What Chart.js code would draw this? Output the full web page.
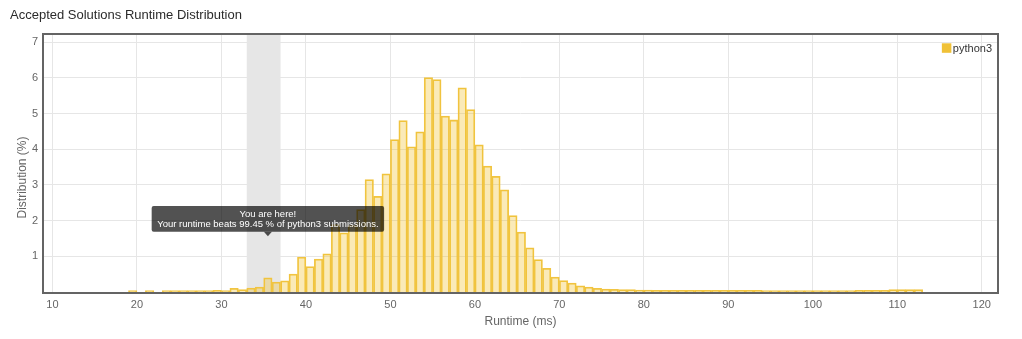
<!DOCTYPE html>
<html><head><meta charset="utf-8">
<script src="https://cdn.jsdelivr.net/npm/chart.js@4.4.0/dist/chart.umd.min.js"></script>
<style>html,body{margin:0;padding:0;background:#fff;overflow:hidden}#wrap{width:1022px;height:339px;position:relative}</style>
</head><body><div id="wrap"><canvas id="c" width="1022" height="339"></canvas></div>
<script>
const TITLE = 'Accepted Solutions Runtime Distribution';
const SERIES_NAME = 'python3';
const X_TITLE = 'Runtime (ms)';
const Y_TITLE = 'Distribution (%)';

// runtime bin (ms, bin start) and share of submissions (%)
const runtimes = [19,21,23,24,25,26,27,28,29,30,31,32,33,34,35,36,37,38,39,40,41,42,43,44,45,46,47,48,49,50,51,52,53,54,55,56,57,58,59,60,61,62,63,64,65,66,67,68,69,70,71,72,73,74,75,76,77,78,79,80,81,82,83,84,85,86,87,88,89,90,91,92,93,94,95,96,97,98,99,100,101,102,103,104,105,106,107,108,109,110,111,112];
const distribution = [0.02,0.02,0.02,0.02,0.015,0.02,0.04,0.03,0.05,0.04,0.10,0.07,0.11,0.14,0.40,0.28,0.31,0.50,0.98,0.71,0.92,1.07,1.89,1.66,1.86,2.31,3.15,2.68,3.31,4.27,4.80,4.07,4.49,6.01,5.95,4.93,4.82,5.72,5.11,4.12,3.53,3.24,2.86,2.14,1.68,1.24,0.91,0.66,0.42,0.32,0.25,0.17,0.14,0.10,0.085,0.075,0.065,0.065,0.056,0.056,0.047,0.047,0.047,0.045,0.047,0.047,0.045,0.047,0.047,0.045,0.047,0.047,0.045,0.03,0.03,0.04,0.04,0.04,0.04,0.035,0.035,0.035,0.04,0.04,0.05,0.05,0.05,0.05,0.07,0.07,0.07,0.07];
const binWidth = 1;

const xTicks = [10,20,30,40,50,60,70,80,90,100,110,120];
const yTicks = [1,2,3,4,5,6,7];
const xRange = [9, 121.8];
const yRange = [0, 7.2];

const highlightRange = [33, 37];
const tooltipLines = ['You are here!', 'Your runtime beats 99.45 % of python3 submissions.'];
const tooltipAnchor = [35.5, 1.56];

const FONT = "'Liberation Sans', Arial, Helvetica, sans-serif";
const BAR_FILL = 'rgba(240,190,40,0.33)';
const BAR_LINE = 'rgb(241,197,66)';
const LEGEND_COLOR = 'rgb(240,193,55)';

const points = runtimes.map((r, i) => ({x: r + binWidth / 2, y: distribution[i]}));

const decor = {
  id: 'decor',
  beforeDraw(chart) {
    const {ctx, chartArea: a, scales: {x}} = chart;
    const x0 = x.getPixelForValue(highlightRange[0]);
    const x1 = x.getPixelForValue(highlightRange[1]);
    ctx.save();
    ctx.fillStyle = '#e6e6e6';
    ctx.fillRect(x0, a.top, x1 - x0, a.bottom - a.top);
    ctx.restore();
  },
  afterDatasetsDraw(chart) {
    const {ctx, chartArea: a} = chart;
    ctx.save();
    ctx.strokeStyle = '#646464';
    ctx.lineWidth = 2;
    ctx.strokeRect(a.left - 1, a.top - 1, a.right - a.left + 2, a.bottom - a.top + 2);
    ctx.restore();
  },
  afterDraw(chart) {
    const {ctx, chartArea: a, scales: {x, y}} = chart;
    ctx.save();
    ctx.fillStyle = '#666';
    ctx.font = '12px ' + FONT;
    ctx.textAlign = 'center';
    ctx.textBaseline = 'middle';
    ctx.translate(a.left - 21, (a.top + a.bottom) / 2 + 14);
    ctx.rotate(-Math.PI / 2);
    ctx.fillText(Y_TITLE, 0, 0);
    ctx.restore();

    ctx.save();
    ctx.font = '11px ' + FONT;
    const tw = ctx.measureText(SERIES_NAME).width;
    const tx = a.right - 5 - tw;
    const ly = a.top + 13;
    ctx.fillStyle = LEGEND_COLOR;
    ctx.fillRect(tx - 11, ly - 4.7, 9.5, 9.5);
    ctx.fillStyle = '#333';
    ctx.textAlign = 'left';
    ctx.textBaseline = 'middle';
    ctx.fillText(SERIES_NAME, tx, ly + 0.5);
    ctx.restore();

    ctx.save();
    ctx.font = '9.5px ' + FONT;
    const w = Math.max(...tooltipLines.map(t => ctx.measureText(t).width)) + 11;
    const lh = 10.6;
    const h = lh * tooltipLines.length + 4.5;
    const cx = x.getPixelForValue(tooltipAnchor[0]);
    const tipY = y.getPixelForValue(tooltipAnchor[1]);
    const by = tipY - 4.5 - h;
    const bx = cx - w / 2;
    ctx.fillStyle = 'rgba(0,0,0,0.68)';
    ctx.beginPath();
    if (ctx.roundRect) ctx.roundRect(bx, by, w, h, 2); else ctx.rect(bx, by, w, h);
    ctx.fill();
    ctx.beginPath();
    ctx.moveTo(cx - 4, by + h);
    ctx.lineTo(cx + 4, by + h);
    ctx.lineTo(cx, tipY);
    ctx.closePath();
    ctx.fill();
    ctx.fillStyle = '#fff';
    ctx.textAlign = 'center';
    ctx.textBaseline = 'middle';
    tooltipLines.forEach((t, i) => ctx.fillText(t, cx, by + 2.5 + lh * (i + 0.5)));
    ctx.restore();
  }
};

new Chart(document.getElementById('c'), {
  type: 'bar',
  data: {
    datasets: [{
      label: SERIES_NAME,
      data: points,
      backgroundColor: BAR_FILL,
      borderColor: BAR_LINE,
      borderWidth: 1.1,
      minBarLength: 1.5,
      barPercentage: 1,
      categoryPercentage: 1
    }]
  },
  options: {
    responsive: false,
    animation: false,
    events: [],
    devicePixelRatio: 1,
    layout: {padding: {left: 10, right: 25, top: 0, bottom: 0}},
    plugins: {
      legend: {display: false},
      tooltip: {enabled: false},
      title: {
        display: true, text: TITLE, align: 'start', color: '#2b2b2b',
        font: {family: FONT, size: 13, weight: 'normal'},
        padding: {top: 7.2, bottom: 12.2}
      }
    },
    scales: {
      x: {
        type: 'linear', min: xRange[0], max: xRange[1], offset: false,
        afterBuildTicks: s => { s.ticks = xTicks.map(v => ({value: v})); },
        afterFit: s => { s.height = 47; },
        grid: {color: '#e6e6e6', lineWidth: 1, drawTicks: false, offset: false},
        border: {display: false},
        ticks: {color: '#666', font: {family: FONT, size: 11}, padding: 6, maxRotation: 0, autoSkip: false},
        title: {display: true, text: X_TITLE, color: '#666', font: {family: FONT, size: 12}, padding: {top: 0, bottom: 9.8}}
      },
      y: {
        min: yRange[0], max: yRange[1],
        afterBuildTicks: s => { s.ticks = yTicks.map(v => ({value: v})); },
        afterFit: s => { s.width = 34; },
        grid: {color: '#e6e6e6', lineWidth: 1, drawTicks: false},
        border: {display: false},
        ticks: {color: '#666', font: {family: FONT, size: 11}, padding: 6}
      }
    }
  },
  plugins: [decor]
});
</script></body></html>
